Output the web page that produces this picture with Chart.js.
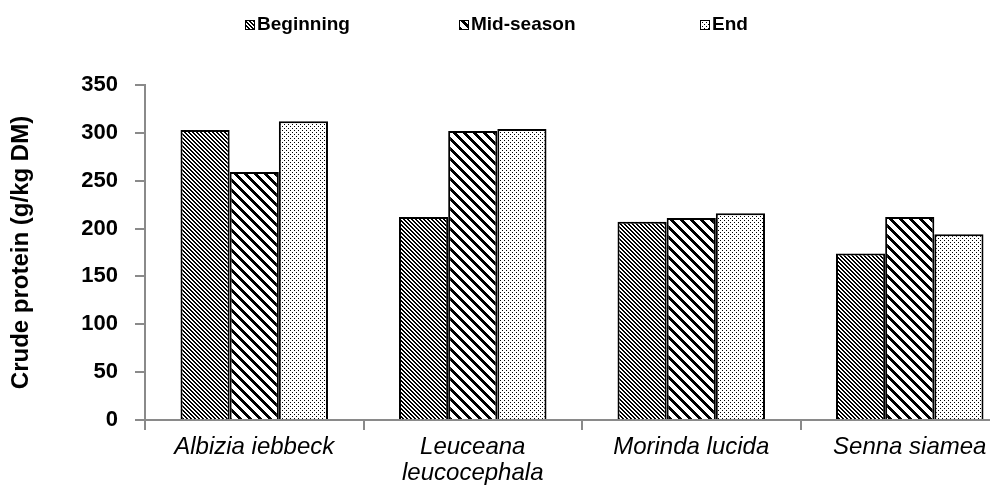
<!DOCTYPE html>
<html>
<head>
<meta charset="utf-8">
<script src="https://cdn.jsdelivr.net/npm/chart.js@4.4.1/dist/chart.umd.min.js"></script>
<style>
    html, body { margin: 0; padding: 0; background: #fff; overflow: hidden; }
    #wrap { position: relative; width: 1020px; height: 486px; }
</style>
</head>
<body>
<div id="wrap"><canvas id="cpChart"></canvas></div>
<script>
// Crude protein (g/kg DM) by species and sampling time
const categories = ['Albizia iebbeck', ['Leuceana', 'leucocephala'], 'Morinda lucida', 'Senna siamea'];
const seriesNames = ['Beginning', 'Mid-season', 'End'];
const beginning = [303, 212, 207, 174];
const midSeason = [259, 302, 211, 212];
const endSeason = [312, 304, 216, 194];
const yTicks = [0, 50, 100, 150, 200, 250, 300, 350];

const AXIS_GREY = '#8a8a8a';
const FONT = '"Liberation Sans", Arial, sans-serif';

// small pixel tiles for the black & white fills
function makePattern(size, isInk) {
    const c = document.createElement('canvas');
    c.width = c.height = size;
    const g = c.getContext('2d');
    g.fillStyle = '#fff';
    g.fillRect(0, 0, size, size);
    g.fillStyle = '#000';
    for (let y = 0; y < size; y++) {
        for (let x = 0; x < size; x++) {
            if (isInk(x, y)) g.fillRect(x, y, 1, 1);
        }
    }
    return g.createPattern(c, 'repeat');
}

const fills = [
    makePattern(4, (x, y) => ((x - y) % 4 + 4) % 4 < 2),     // fine hatch
    makePattern(10, (x, y) => ((x - y) % 10 + 10) % 10 < 4), // wide hatch
    makePattern(4, (x, y) => (x === 0 && y === 0) || (x === 2 && y === 2)), // dots
];

// legend drawn by hand: items are far apart in the original
const legendX = [245, 459, 700];
const patternLegend = {
    id: 'patternLegend',
    afterDraw(chart) {
        const ctx = chart.ctx;
        ctx.save();
        ctx.font = 'bold 19px ' + FONT;
        ctx.textBaseline = 'alphabetic';
        chart.data.datasets.forEach((ds, i) => {
            const x = legendX[i];
            ctx.fillStyle = ds.backgroundColor;
            ctx.fillRect(x, 20, 10, 10);
            ctx.strokeStyle = '#000';
            ctx.lineWidth = 1;
            ctx.strokeRect(x + 0.5, 20.5, 9, 9);
            ctx.fillStyle = '#000';
            ctx.fillText(ds.label, x + 12, 30);
        });
        ctx.restore();
    },
};

const values = [beginning, midSeason, endSeason];

new Chart(document.getElementById('cpChart'), {
    type: 'bar',
    data: {
        labels: categories,
        datasets: seriesNames.map((name, i) => ({
            label: name,
            data: values[i],
            backgroundColor: fills[i],
            borderColor: '#000',
            borderWidth: 2,
            categoryPercentage: 0.675,
            barPercentage: 1,
        })),
    },
    options: {
        responsive: true,
        maintainAspectRatio: false,
        animation: false,
        layout: { padding: { top: 85, right: 1, bottom: 0, left: 0 } },
        plugins: {
            legend: { display: false },
            tooltip: { enabled: false },
        },
        scales: {
            y: {
                min: 0,
                max: 350,
                afterBuildTicks: (scale) => { scale.ticks = yTicks.map((v) => ({ value: v })); },
                afterFit: (scale) => { scale.width = 145; },
                ticks: {
                    color: '#000',
                    padding: 17,
                    font: { family: FONT, size: 22, weight: 'bold' },
                },
                grid: { drawOnChartArea: false, tickLength: 10, color: AXIS_GREY, lineWidth: 2 },
                border: { color: AXIS_GREY, width: 2 },
                title: {
                    display: true,
                    text: 'Crude protein (g/kg DM)',
                    color: '#000',
                    font: { family: FONT, size: 24, weight: 'bold' },
                    padding: { top: 7, bottom: 0 },
                },
            },
            x: {
                afterFit: (scale) => { scale.height = 66; },
                ticks: {
                    color: '#000',
                    padding: 4,
                    maxRotation: 0,
                    autoSkip: false,
                    font: { family: FONT, size: 24, style: 'italic', lineHeight: 1.1 },
                },
                grid: { drawOnChartArea: false, tickLength: 10, color: AXIS_GREY, lineWidth: 2, offset: true },
                border: { color: AXIS_GREY, width: 2 },
            },
        },
    },
    plugins: [patternLegend],
});
</script>
</body>
</html>
